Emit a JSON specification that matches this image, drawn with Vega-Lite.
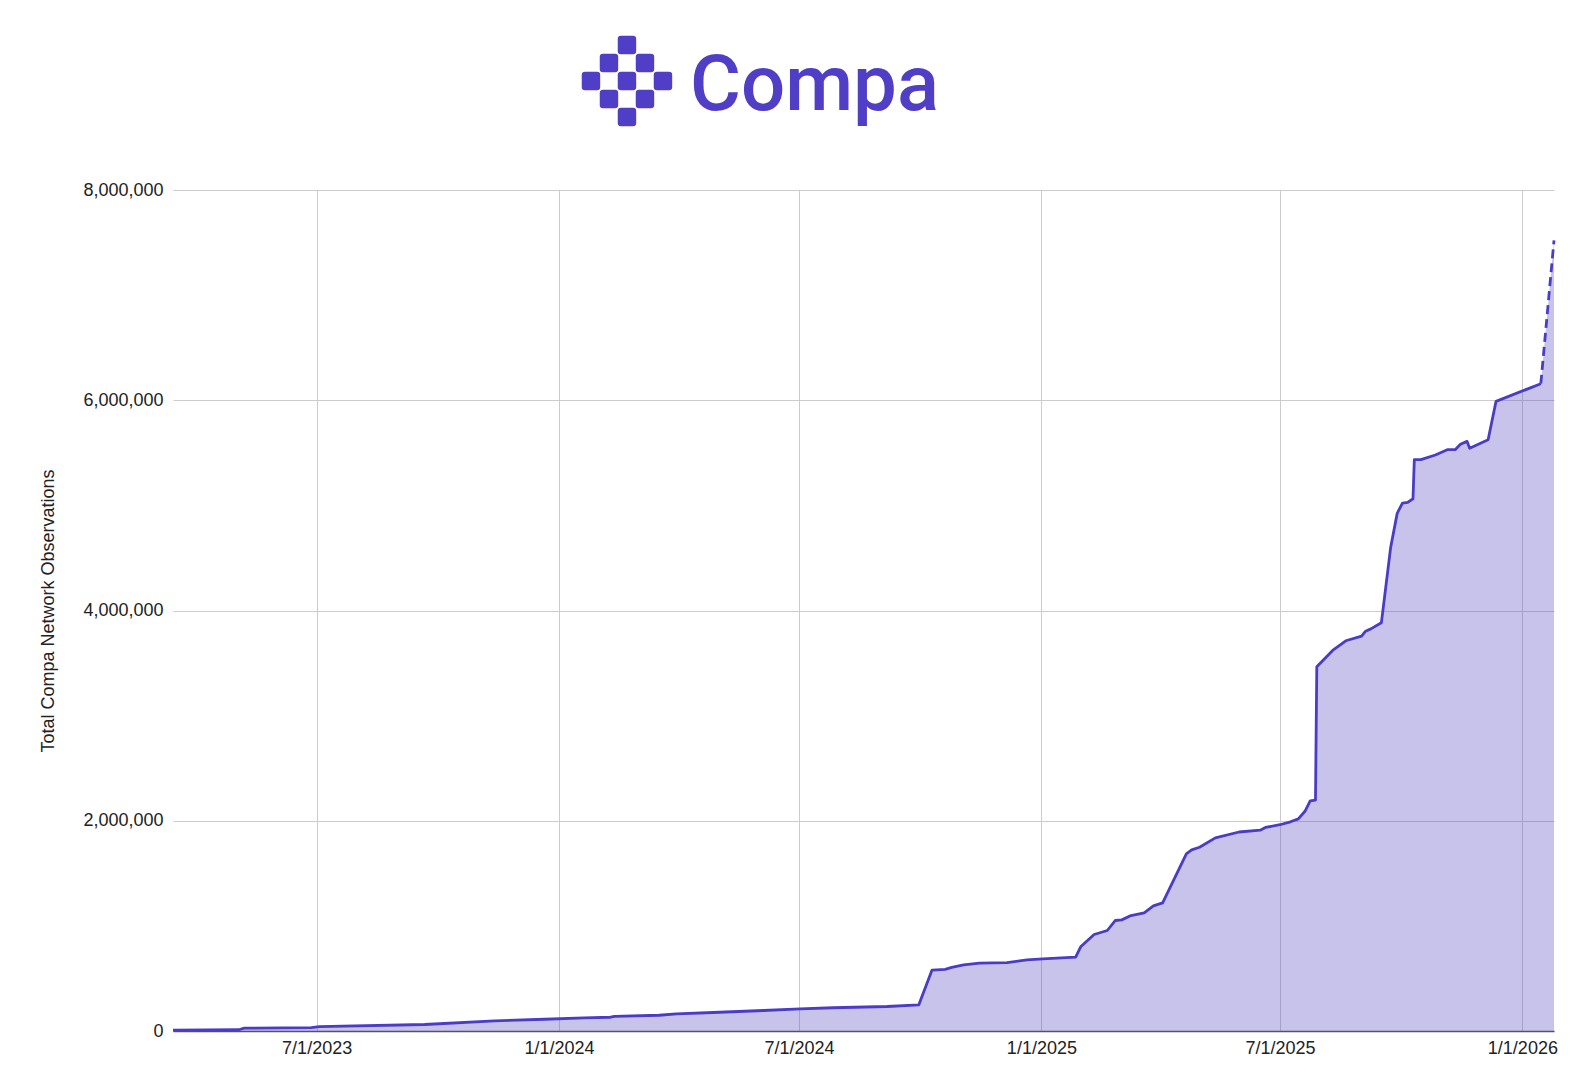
{
  "$schema": "https://vega.github.io/schema/vega-lite/v6.json",
  "background": "white",
  "padding": {"left": 39, "top": 35, "right": 0, "bottom": 0},
  "bounds": "flush",
  "spacing": 64,
  "config": {"view": {"stroke": null}, "font": "Liberation Sans"},
  "datasets": {
    "logo": [
      {"col": 2.5, "row": 0.5},
      {"col": 1.5, "row": 1.5},
      {"col": 3.5, "row": 1.5},
      {"col": 0.5, "row": 2.5},
      {"col": 2.5, "row": 2.5},
      {"col": 4.5, "row": 2.5},
      {"col": 1.5, "row": 3.5},
      {"col": 3.5, "row": 3.5},
      {"col": 2.5, "row": 4.5}
    ],
    "wordmark": [{"col": 6.0, "row": 4.09, "label": "Compa"}],
    "obs": [
      {"date": "2023-03-14T00:00:00", "total": 8000},
      {"date": "2023-05-03T00:00:00", "total": 12000},
      {"date": "2023-05-07T00:00:00", "total": 27000},
      {"date": "2023-06-27T00:00:00", "total": 33000},
      {"date": "2023-07-03T00:00:00", "total": 42000},
      {"date": "2023-09-21T00:00:00", "total": 62000},
      {"date": "2023-11-13T00:00:00", "total": 97000},
      {"date": "2023-12-21T00:00:00", "total": 112000},
      {"date": "2024-01-20T00:00:00", "total": 125000},
      {"date": "2024-02-09T00:00:00", "total": 131000},
      {"date": "2024-02-12T00:00:00", "total": 140000},
      {"date": "2024-03-17T00:00:00", "total": 150000},
      {"date": "2024-03-30T00:00:00", "total": 163000},
      {"date": "2024-04-27T00:00:00", "total": 176000},
      {"date": "2024-06-04T00:00:00", "total": 195000},
      {"date": "2024-07-02T00:00:00", "total": 211000},
      {"date": "2024-07-27T00:00:00", "total": 221000},
      {"date": "2024-09-06T00:00:00", "total": 233000},
      {"date": "2024-09-30T00:00:00", "total": 249000},
      {"date": "2024-10-10T00:00:00", "total": 580000},
      {"date": "2024-10-20T00:00:00", "total": 586000},
      {"date": "2024-10-25T00:00:00", "total": 605000},
      {"date": "2024-11-03T00:00:00", "total": 628000},
      {"date": "2024-11-15T00:00:00", "total": 645000},
      {"date": "2024-12-06T00:00:00", "total": 651000},
      {"date": "2024-12-21T00:00:00", "total": 677000},
      {"date": "2025-01-02T00:00:00", "total": 687000},
      {"date": "2025-01-27T00:00:00", "total": 702000},
      {"date": "2025-01-31T00:00:00", "total": 804000},
      {"date": "2025-02-10T00:00:00", "total": 918000},
      {"date": "2025-02-20T00:00:00", "total": 956000},
      {"date": "2025-02-26T00:00:00", "total": 1051000},
      {"date": "2025-03-03T00:00:00", "total": 1057000},
      {"date": "2025-03-10T00:00:00", "total": 1098000},
      {"date": "2025-03-20T00:00:00", "total": 1124000},
      {"date": "2025-03-27T00:00:00", "total": 1190000},
      {"date": "2025-04-03T00:00:00", "total": 1219000},
      {"date": "2025-04-21T00:00:00", "total": 1685000},
      {"date": "2025-04-25T00:00:00", "total": 1723000},
      {"date": "2025-05-01T00:00:00", "total": 1748000},
      {"date": "2025-05-13T00:00:00", "total": 1837000},
      {"date": "2025-05-31T00:00:00", "total": 1893000},
      {"date": "2025-06-16T00:00:00", "total": 1910000},
      {"date": "2025-06-20T00:00:00", "total": 1936000},
      {"date": "2025-07-01T00:00:00", "total": 1962000},
      {"date": "2025-07-09T00:00:00", "total": 1990000},
      {"date": "2025-07-15T00:00:00", "total": 2018000},
      {"date": "2025-07-20T00:00:00", "total": 2090000},
      {"date": "2025-07-24T00:00:00", "total": 2190000},
      {"date": "2025-07-28T00:00:00", "total": 2197000},
      {"date": "2025-07-29T00:00:00", "total": 3465000},
      {"date": "2025-08-10T00:00:00", "total": 3620000},
      {"date": "2025-08-20T00:00:00", "total": 3712000},
      {"date": "2025-09-01T00:00:00", "total": 3756000},
      {"date": "2025-09-04T00:00:00", "total": 3803000},
      {"date": "2025-09-08T00:00:00", "total": 3825000},
      {"date": "2025-09-16T00:00:00", "total": 3883000},
      {"date": "2025-09-23T00:00:00", "total": 4596000},
      {"date": "2025-09-28T00:00:00", "total": 4924000},
      {"date": "2025-10-02T00:00:00", "total": 5022000},
      {"date": "2025-10-06T00:00:00", "total": 5029000},
      {"date": "2025-10-10T00:00:00", "total": 5063000},
      {"date": "2025-10-11T00:00:00", "total": 5435000},
      {"date": "2025-10-16T00:00:00", "total": 5435000},
      {"date": "2025-10-27T00:00:00", "total": 5479000},
      {"date": "2025-11-05T00:00:00", "total": 5530000},
      {"date": "2025-11-11T00:00:00", "total": 5530000},
      {"date": "2025-11-15T00:00:00", "total": 5581000},
      {"date": "2025-11-20T00:00:00", "total": 5609000},
      {"date": "2025-11-22T00:00:00", "total": 5544000},
      {"date": "2025-12-06T00:00:00", "total": 5624000},
      {"date": "2025-12-12T00:00:00", "total": 5989000},
      {"date": "2026-01-15T00:00:00", "total": 6157000},
      {"date": "2026-01-25T00:00:00", "total": 7520000}
    ]
  },
  "vconcat": [
    {
      "width": 1381,
      "height": 90,
      "layer": [
        {
          "data": {"name": "logo"},
          "mark": {
            "type": "point",
            "filled": true,
            "opacity": 1,
            "color": "#503EC6",
            "strokeWidth": 0,
            "size": 340,
            "shape": "M -1 -0.65 Q -1 -1 -0.65 -1 L 0.65 -1 Q 1 -1 1 -0.65 L 1 0.65 Q 1 1 0.65 1 L -0.65 1 Q -1 1 -1 0.65 Z"
          },
          "encoding": {
            "x": {"field": "col", "type": "quantitative", "scale": {"domain": [-22.72, 54.0], "nice": false, "zero": false}, "axis": null},
            "y": {"field": "row", "type": "quantitative", "scale": {"domain": [0, 5], "nice": false, "reverse": true}, "axis": null}
          }
        },
        {
          "data": {"name": "wordmark"},
          "mark": {
            "type": "text",
            "align": "left",
            "baseline": "alphabetic",
            "font": "Roboto",
            "fontWeight": 500,
            "fontSize": 78,
            "color": "#503EC6"
          },
          "encoding": {
            "x": {"field": "col", "type": "quantitative", "scale": {"domain": [-22.72, 54.0], "nice": false, "zero": false}, "axis": null},
            "y": {"field": "row", "type": "quantitative", "scale": {"domain": [0, 5], "nice": false, "reverse": true}, "axis": null},
            "text": {"field": "label"}
          }
        }
      ]
    },
    {
      "width": 1381,
      "height": 841,
      "data": {"name": "obs"},
      "encoding": {
        "x": {
          "field": "date",
          "type": "temporal",
          "scale": {
            "domain": [
              {"year": 2023, "month": 3, "date": 14},
              {"year": 2026, "month": 1, "date": 25}
            ],
            "nice": false
          },
          "axis": {
            "title": null,
            "values": [
              {"year": 2023, "month": 7, "date": 1},
              {"year": 2024, "month": 1, "date": 1},
              {"year": 2024, "month": 7, "date": 1},
              {"year": 2025, "month": 1, "date": 1},
              {"year": 2025, "month": 7, "date": 1},
              {"year": 2026, "month": 1, "date": 1}
            ],
            "format": "%-m/%-d/%Y",
            "grid": true,
            "gridColor": "#cccccc",
            "gridWidth": 1,
            "ticks": false,
            "tickSize": 0,
            "domain": true,
            "domainColor": "#555555",
            "domainWidth": 1.5,
            "labelFont": "Liberation Sans",
            "labelFontSize": 18,
            "labelColor": "#222222",
            "labelPadding": 8
          }
        },
        "y": {
          "field": "total",
          "type": "quantitative",
          "scale": {"domain": [0, 8000000], "nice": false},
          "axis": {
            "title": "Total Compa Network Observations",
            "titleFont": "Liberation Sans",
            "titleFontSize": 18,
            "titleFontWeight": "normal",
            "titleColor": "#222222",
            "titlePadding": 25,
            "values": [0, 2000000, 4000000, 6000000, 8000000],
            "format": ",d",
            "grid": true,
            "gridColor": "#cccccc",
            "gridWidth": 1,
            "ticks": false,
            "tickSize": 0,
            "domain": false,
            "labelFont": "Liberation Sans",
            "labelFontSize": 18,
            "labelColor": "#222222",
            "labelPadding": 10
          }
        }
      },
      "layer": [
        {
          "mark": {"type": "area", "color": "#4A3CBE", "opacity": 0.31, "interpolate": "linear"}
        },
        {
          "transform": [{"filter": "datum.date <= datetime(2026, 0, 15)"}],
          "mark": {"type": "line", "color": "#4B3CC6", "strokeWidth": 2.8, "strokeJoin": "round"}
        },
        {
          "transform": [{"filter": "datum.date >= datetime(2026, 0, 15)"}],
          "mark": {"type": "line", "color": "#4B3CC6", "strokeWidth": 2.8, "strokeDash": [9, 5]}
        }
      ]
    }
  ]
}
